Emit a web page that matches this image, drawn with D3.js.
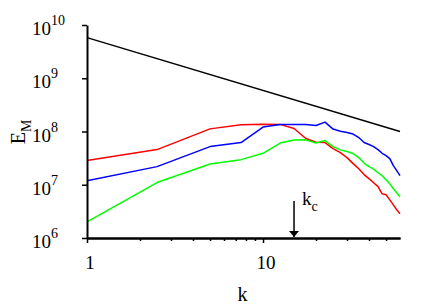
<!DOCTYPE html>
<html>
<head>
<meta charset="utf-8">
<script src="https://cdn.jsdelivr.net/npm/d3@7"></script>
<style>
  body { margin: 0; background: #fff; }
  text { font-family: "Liberation Serif", "Times New Roman", serif; fill: #000; }
</style>
</head>
<body>
<div id="chart"></div>
<script>
// wavenumbers
var kValues = [1, 2.5, 5, 7.5, 10, 12.5, 15, 17.5, 20, 22.5, 25, 27.5, 30, 32.5, 35,
               37.5, 40, 42.5, 45, 47.5, 50, 52.5, 55, 57.5, 60];

// magnetic energy spectra
var redE = [2.84e7, 4.57e7, 1.12e8, 1.34e8, 1.37e8, 1.36e8, 1.14e8, 7.38e7, 6.28e7, 6.20e7,
            4.78e7, 4.02e7, 3.23e7, 2.49e7, 2.00e7, 1.55e7, 1.30e7, 1.09e7, 9.2e6, 6.76e6,
            6.47e6, 5.21e6, 4.20e6, 3.38e6, 2.84e6];
var blueE = [1.19e7, 2.19e7, 5.21e7, 6.20e7, 1.21e8, 1.36e8, 1.36e8, 1.36e8, 1.30e8, 1.50e8,
             1.11e8, 1.01e8, 9.58e7, 8.97e7, 7.71e7, 6.20e7, 5.69e7, 5.21e7, 4.57e7, 3.90e7,
             3.53e7, 3.10e7, 2.28e7, 1.84e7, 1.48e7];
var greenE = [2.0e6, 1.10e7, 2.46e7, 2.96e7, 3.90e7, 6.07e7, 6.91e7, 6.97e7, 6.07e7, 6.76e7,
              5.21e7, 4.52e7, 4.20e7, 3.85e7, 3.23e7, 2.55e7, 2.19e7, 1.96e7, 1.68e7, 1.48e7,
              1.24e7, 1.04e7, 8.41e6, 7.07e6, 5.94e6];

// reference power law (two end points)
var refK = [1, 60];
var refE = [5.8e9, 1.0e8];

// axis ticks
var yTicks = [1e6, 1e7, 1e8, 1e9, 1e10];
var yExponents = ["6", "7", "8", "9", "10"];
var xMajor = [1, 10];
var xMajorLabels = ["1", "10"];
var xMinor = [2, 3, 4, 5, 6, 7, 8, 9, 20, 30, 40, 50];
var kc = 15;

var W = 436, H = 305;
var margin = {top: 25, right: 36, bottom: 67, left: 87},
    width = W - margin.left - margin.right,
    height = H - margin.top - margin.bottom;

var svg = d3.select("#chart")
  .append("svg")
    .attr("width", W)
    .attr("height", H);

var g = svg.append("g")
    .attr("transform", "translate(" + margin.left + "," + margin.top + ")");

var x = d3.scaleLog().domain([1, 60]).range([0, width]);
var y = d3.scaleLog().domain([1e6, 1e10]).range([height, 0]);

// spectra lines
var line = d3.line()
  .x(function(d) { return x(d[0]); })
  .y(function(d) { return y(d[1]); });

var series = [
  {vals: refE, ks: refK, color: "#000000"},
  {vals: redE, ks: kValues, color: "#ff0000"},
  {vals: blueE, ks: kValues, color: "#0000ff"},
  {vals: greenE, ks: kValues, color: "#00ff00"}
];

g.selectAll("path.spec")
  .data(series)
  .enter().append("path")
    .attr("class", "spec")
    .attr("d", function(s) { return line(s.ks.map(function(k, i) { return [k, s.vals[i]]; })); })
    .attr("fill", "none")
    .attr("stroke", function(s) { return s.color; })
    .attr("stroke-width", 1.5)
    .attr("stroke-linejoin", "round");

// X axis: majors and minors
var xAxisG = g.append("g")
    .attr("transform", "translate(0," + height + ")");
xAxisG.append("g")
    .call(d3.axisBottom(x).tickValues(xMinor).tickSize(3).tickSizeOuter(0).tickFormat(""));
xAxisG.append("g")
    .call(d3.axisBottom(x).tickValues(xMajor).tickSize(5).tickSizeOuter(0).tickFormat(""));
xAxisG.selectAll(".domain").attr("stroke-width", 2);
xAxisG.selectAll(".tick line").attr("stroke-width", 1.5);

xAxisG.selectAll("text.xl")
  .data(xMajor)
  .enter().append("text")
    .attr("class", "xl")
    .attr("x", function(d) { return x(d) + 3; })
    .attr("y", 31)
    .attr("text-anchor", "middle")
    .style("font-size", "19px")
    .text(function(d, i) { return xMajorLabels[i]; });

// Y axis
var yAxisG = g.append("g");
yAxisG.call(d3.axisLeft(y).tickValues(yTicks).tickSize(5).tickSizeOuter(0).tickFormat(""));
yAxisG.selectAll(".domain").attr("stroke-width", 2);
yAxisG.selectAll(".tick line").attr("stroke-width", 1.5);

var yl = g.append("g").selectAll("text.yl")
  .data(yTicks)
  .enter().append("text")
    .attr("class", "yl")
    .attr("x", -55)
    .attr("y", function(d) { return y(d) + 10; })
    .attr("text-anchor", "start")
    .style("font-size", "19px");
yl.append("tspan").text("10");
yl.append("tspan")
    .attr("dy", -10)
    .style("font-size", "14px")
    .text(function(d, i) { return yExponents[i]; });

// axis titles
var yt = svg.append("text")
    .attr("transform", "translate(25,132) rotate(-90)")
    .attr("text-anchor", "middle")
    .style("font-size", "20px");
yt.append("tspan").text("E");
yt.append("tspan").attr("dy", 6).style("font-size", "14px").text("M");

svg.append("text")
    .attr("x", 242.5)
    .attr("y", 301)
    .attr("text-anchor", "middle")
    .style("font-size", "20px")
    .text("k");

// k_c arrow
svg.append("defs").append("marker")
    .attr("id", "arrow")
    .attr("viewBox", "0 0 6 10")
    .attr("refX", 6).attr("refY", 5)
    .attr("markerWidth", 6).attr("markerHeight", 10)
    .attr("markerUnits", "userSpaceOnUse")
    .attr("orient", "auto")
  .append("path")
    .attr("d", "M0,0 L6,5 L0,10 Z")
    .attr("fill", "#000");

g.append("line")
    .attr("x1", x(kc)).attr("x2", x(kc))
    .attr("y1", height - 37).attr("y2", height - 1)
    .attr("stroke", "#000")
    .attr("stroke-width", 1.5)
    .attr("marker-end", "url(#arrow)");

var kcl = g.append("text")
    .attr("x", x(kc) + 8)
    .attr("y", height - 33)
    .style("font-size", "19px");
kcl.append("tspan").text("k");
kcl.append("tspan").attr("dy", 6).style("font-size", "14px").text("c");
</script>
</body>
</html>
